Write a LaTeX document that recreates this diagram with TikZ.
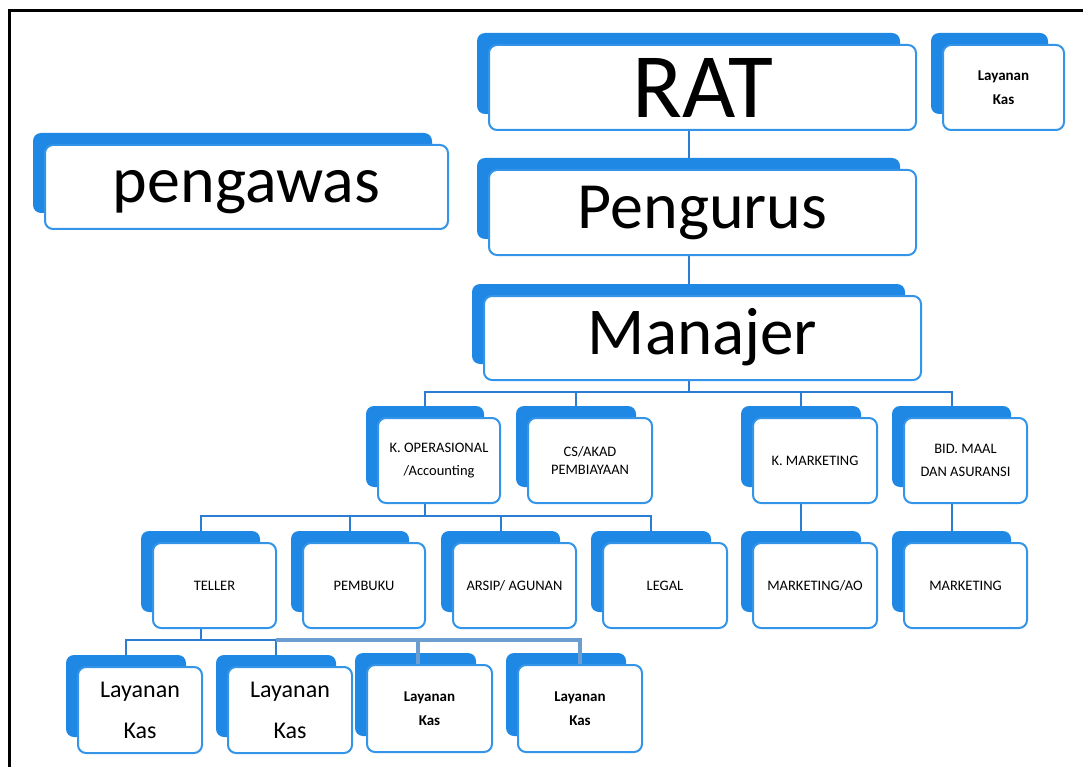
\documentclass[tikz,border=0pt]{standalone}
\usepackage{fontspec}
\setmainfont{Carlito}
\pgfdeclarelayer{bg}
\pgfdeclarelayer{front}
\pgfsetlayers{bg,main,front}
\definecolor{backblue}{RGB}{31,136,229}
\definecolor{edgeblue}{RGB}{52,148,232}
\definecolor{connblue}{RGB}{43,124,211}
\definecolor{lightconn}{RGB}{108,157,208}
\tikzset{
  backbox/.style={fill=backblue, rounded corners=8pt, inner sep=0pt, outer sep=0pt},
  frontbox/.style={draw=edgeblue, line width=2pt, fill=white, rounded corners=8pt,
    inner sep=0pt, outer sep=0pt, align=center, text=black},
  conn/.style={draw=connblue, line width=2pt},
  lconn/.style={draw=lightconn, line width=3.5pt},
  bigtext/.style={font=\fontsize{#1}{#1}\selectfont, text height=46pt, text depth=14pt},
  smalltext/.style={font=\fontsize{14.5}{23}\selectfont},
  boldtext/.style={font=\fontsize{15}{24}\selectfont\bfseries},
  midtext/.style={font=\fontsize{24}{41}\selectfont},
  frameline/.style={draw=black, line width=3pt}
}
% #1 name, #2 x1, #3 y1, #4 x2, #5 y2 (front box), #6 options, #7 text
\newcommand\orgbox[7]{%
  \node[backbox, minimum width={#4-#2-4}, minimum height={#5-#3-4}]
    (#1b) at ({(#2+#4)/2-14},{(#3+#5)/2-14}) {};
  \begin{pgfonlayer}{front}
  \node[frontbox, #6, minimum width={#4-#2}, minimum height={#5-#3}]
    (#1) at ({(#2+#4)/2},{(#3+#5)/2}) {#7};
  \end{pgfonlayer}}
\begin{document}
\begin{tikzpicture}[x=1pt,y=-1pt]
\useasboundingbox (0,0) rectangle (1083,767);
\begin{pgfonlayer}{bg}
\fill[white] (0,0) rectangle (1083,767);
\end{pgfonlayer}
% frame
\draw[frameline] (8,11) -- (1083,11);
\draw[frameline] (9.5,10) -- (9.5,767);
% boxes
\orgbox{rat}{489}{45}{916}{130}{font=\fontsize{92}{96}\selectfont, text height=61pt, text depth=0pt}{RAT}
\orgbox{lk}{943}{45}{1064}{130}{boldtext}{Layanan\\Kas}
\orgbox{peng}{45}{145}{448}{229}{bigtext=66}{pengawas}
\orgbox{pgr}{489}{170}{916}{255}{bigtext=66}{Pengurus}
\orgbox{man}{484}{296}{921}{380}{bigtext=67}{Manajer}
\orgbox{kop}{378}{418}{500}{503}{smalltext}{K. OPERASIONAL\\/Accounting}
\orgbox{cs}{528}{418}{652}{503}{font=\fontsize{14.5}{18}\selectfont}{CS/AKAD\\PEMBIAYAAN}
\orgbox{kmk}{753}{418}{877}{503}{smalltext}{K. MARKETING}
\orgbox{bid}{904}{418}{1027}{503}{smalltext}{BID. MAAL\\DAN ASURANSI}
\orgbox{tel}{153}{543}{276}{628}{smalltext}{TELLER}
\orgbox{pem}{303}{543}{425}{628}{smalltext}{PEMBUKU}
\orgbox{ars}{453}{543}{576}{628}{smalltext}{ARSIP/ AGUNAN}
\orgbox{leg}{603}{543}{727}{628}{smalltext}{LEGAL}
\orgbox{mao}{753}{543}{877}{628}{smalltext}{MARKETING/AO}
\orgbox{mkt}{904}{543}{1027}{628}{smalltext}{MARKETING}
\orgbox{la}{78}{667}{202}{753}{midtext}{Layanan\\Kas}
\orgbox{lb}{228}{667}{352}{753}{midtext}{Layanan\\Kas}
\orgbox{lc}{367}{665}{492}{752}{boldtext}{Layanan\\Kas}
\orgbox{ld}{518}{665}{642}{752}{boldtext}{Layanan\\Kas}
% connectors
\coordinate (yA) at (0,392);
\coordinate (yB) at (0,516);
\coordinate (yC) at (0,640);
\begin{pgfonlayer}{bg}
\draw[conn] (ratb.south) -- (pgrb.north);
\draw[conn] (pgrb.south) -- (manb.north);
\foreach \c in {kop,cs,kmk,bid}
  \draw[conn] (manb.south) -- (manb.south |- yA) -| (\c b.north);
\foreach \c in {tel,pem,ars,leg}
  \draw[conn] (kopb.south) -- (kopb.south |- yB) -| (\c b.north);
\draw[conn] (kmkb.south) -- (maob.north);
\draw[conn] (bidb.south) -- (mktb.north);
\foreach \c in {la,lb}
  \draw[conn] (telb.south) -- (telb.south |- yC) -| (\c b.north);
\end{pgfonlayer}
\draw[lconn] (lbb.north |- yC) -| ([xshift=-11.5pt]lc.north);
\draw[lconn] (lbb.north |- yC) -| (ld.north);
\end{tikzpicture}
\end{document}
